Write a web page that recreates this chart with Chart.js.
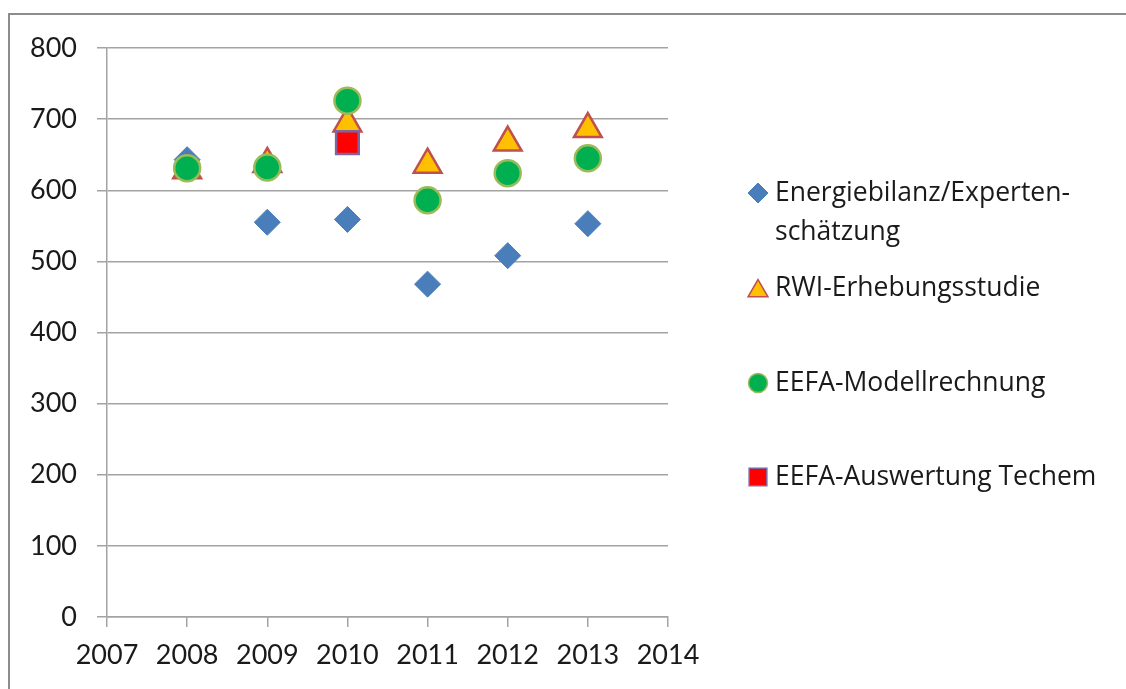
<!DOCTYPE html>
<html>
<head>
<meta charset="utf-8">
<script src="https://cdn.jsdelivr.net/npm/chart.js@4"></script>
<style>
  body { margin: 0; background: #fff; }
  #frame { position: absolute; left: 8px; top: 13px; width: 1300px; height: 900px; border: 2px solid #8c8c8c; }
  #wrap { position: absolute; left: 0; top: 0; width: 1126px; height: 689px; }
</style>
</head>
<body>
<div id="frame"></div>
<div id="wrap"><canvas id="chart"></canvas></div>
<script>
const years = [2008, 2009, 2010, 2011, 2012, 2013];
const energiebilanz = [643, 555, 559, 468, 508, 553];
const rwi = [628, 637, 694, 636, 667, 686];
const eefaModell = [631, 632, 726, 586, 624, 645];
const eefaTechem = [null, null, 667, null, null, null];
const xTicks = [2007, 2008, 2009, 2010, 2011, 2012, 2013, 2014];
const yTicks = [0, 100, 200, 300, 400, 500, 600, 700, 800];

const legendText = [
    ['Energiebilanz/Experten-', 'schätzung'],
    ['RWI-Erhebungsstudie'],
    ['EEFA-Modellrechnung'],
    ['EEFA-Auswertung Techem']
];

const gridColor = '#a3a3a3';

function toPoints(vals) {
    return years.map((yr, i) => ({ x: yr, y: vals[i] })).filter(p => p.y !== null);
}

// Legend drawn by hand so the first entry can wrap onto two lines
const sideLegend = {
    id: 'sideLegend',
    afterDraw(chart) {
        const ctx = chart.ctx;
        const markerX = 758, textX = 775;
        const rowY = [193, 288, 383, 477];
        const legendRadius = [10, 11.5, 9.5, 12.5];
        ctx.save();
        chart.data.datasets.forEach((ds, i) => {
            const y = rowY[i];
            ctx.fillStyle = ds.backgroundColor;
            ctx.strokeStyle = ds.borderColor;
            ctx.lineWidth = ds.borderWidth > 1 ? 1.5 : 1;
            Chart.helpers.drawPoint(ctx, {
                pointStyle: ds.pointStyle,
                radius: legendRadius[i],
                borderWidth: ctx.lineWidth,
                rotation: 0
            }, markerX, ds.pointStyle === 'triangle' ? y + 3 : y);
            ctx.fillStyle = '#1a1a1a';
            ctx.font = '26.5px "Open Sans"';
            ctx.textBaseline = 'middle';
            ctx.textAlign = 'left';
            legendText[i].forEach((line, j) => {
                ctx.fillText(line, textX, y + j * 39);
            });
        });
        ctx.restore();
    }
};

new Chart(document.getElementById('chart'), {
    type: 'scatter',
    data: {
        datasets: [
            {
                label: 'Energiebilanz/Experten-schätzung',
                data: toPoints(energiebilanz),
                pointStyle: 'rectRot',
                pointRadius: 13,
                backgroundColor: '#4a7ebb',
                borderColor: '#4a7ebb',
                borderWidth: 1,
                order: 4
            },
            {
                label: 'RWI-Erhebungsstudie',
                data: toPoints(rwi),
                pointStyle: 'triangle',
                pointRadius: 16,
                backgroundColor: '#ffc000',
                borderColor: '#c0504d',
                borderWidth: 2.5,
                order: 3
            },
            {
                label: 'EEFA-Modellrechnung',
                data: toPoints(eefaModell),
                pointStyle: 'circle',
                pointRadius: 13,
                backgroundColor: '#00b050',
                borderColor: '#9bbb59',
                borderWidth: 2.5,
                order: 2
            },
            {
                label: 'EEFA-Auswertung Techem',
                data: toPoints(eefaTechem),
                pointStyle: 'rect',
                pointRadius: 16,
                backgroundColor: '#ff0000',
                borderColor: '#8064a2',
                borderWidth: 2.5,
                order: 1
            }
        ]
    },
    options: {
        responsive: true,
        maintainAspectRatio: false,
        animation: false,
        layout: { padding: { left: 0, top: 48, right: 458, bottom: 0 } },
        plugins: {
            legend: { display: false },
            tooltip: { enabled: false }
        },
        scales: {
            x: {
                type: 'linear',
                min: 2007,
                max: 2014,
                afterFit(scale) { scale.height = 72; },
                afterBuildTicks(scale) { scale.ticks = xTicks.map(v => ({ value: v })); },
                grid: { drawOnChartArea: false, drawTicks: true, tickLength: 10, color: gridColor, lineWidth: 1.5 },
                border: { color: gridColor, width: 1.5 },
                ticks: {
                    color: '#1a1a1a',
                    font: { family: 'Lato', size: 27 },
                    padding: 12,
                    maxRotation: 0,
                    callback: v => String(v)
                }
            },
            y: {
                min: 0,
                max: 800,
                afterFit(scale) { scale.width = 107; },
                afterBuildTicks(scale) { scale.ticks = yTicks.map(v => ({ value: v })); },
                grid: { color: gridColor, lineWidth: 1.5, tickLength: 10 },
                border: { color: gridColor, width: 1.5 },
                ticks: {
                    color: '#1a1a1a',
                    font: { family: 'Lato', size: 27 },
                    padding: 20,
                    callback: v => String(v)
                }
            }
        }
    },
    plugins: [sideLegend]
});
</script>
</body>
</html>
